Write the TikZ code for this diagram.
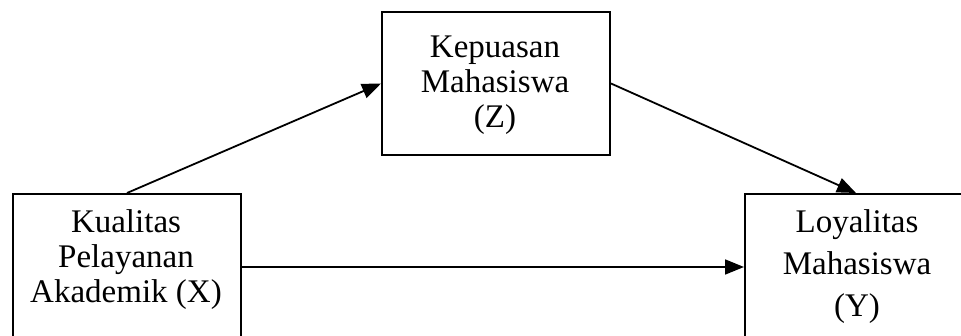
\documentclass[tikz,border=0pt]{standalone}
\usepackage{fontspec}
\setmainfont{Liberation Serif}
\usetikzlibrary{arrows.meta}
\begin{document}
\begin{tikzpicture}[x=1pt,y=-1pt,
  box/.style={draw=black, line width=2pt, minimum width=#1, inner sep=0pt, anchor=north west},
  lbl/.style={align=center, inner sep=0pt, font=\fontsize{33}{35}\selectfont},
  conn/.style={line width=1.8pt, -{Triangle[length=19pt,width=15pt]}}]
\useasboundingbox (0,0) rectangle (961,336);
\clip (0,0) rectangle (961,336);
\node[box=228pt, minimum height=143pt] (Z) at (381,11) {};
\node[box=228pt, minimum height=145pt] (X) at (12,193) {};
\node[box=222pt, minimum height=145pt] (Y) at (744,193) {};
\node[lbl] (tZ) at (495,85) {Kepuasan\\Mahasiswa\\(Z)};
\node[lbl] (tX) at (126,260) {Kualitas\\Pelayanan\\Akademik (X)};
\node[lbl, font=\fontsize{33}{42}\selectfont] (tY) at (857,267) {Loyalitas\\Mahasiswa\\(Y)};
\draw[conn] (X.north) -- (Z.west);
\draw[conn] (Z.east) -- (Y.north);
\draw[conn] ([yshift=-0.5pt]X.east) -- ([yshift=-0.5pt]Y.west);
\end{tikzpicture}
\end{document}
